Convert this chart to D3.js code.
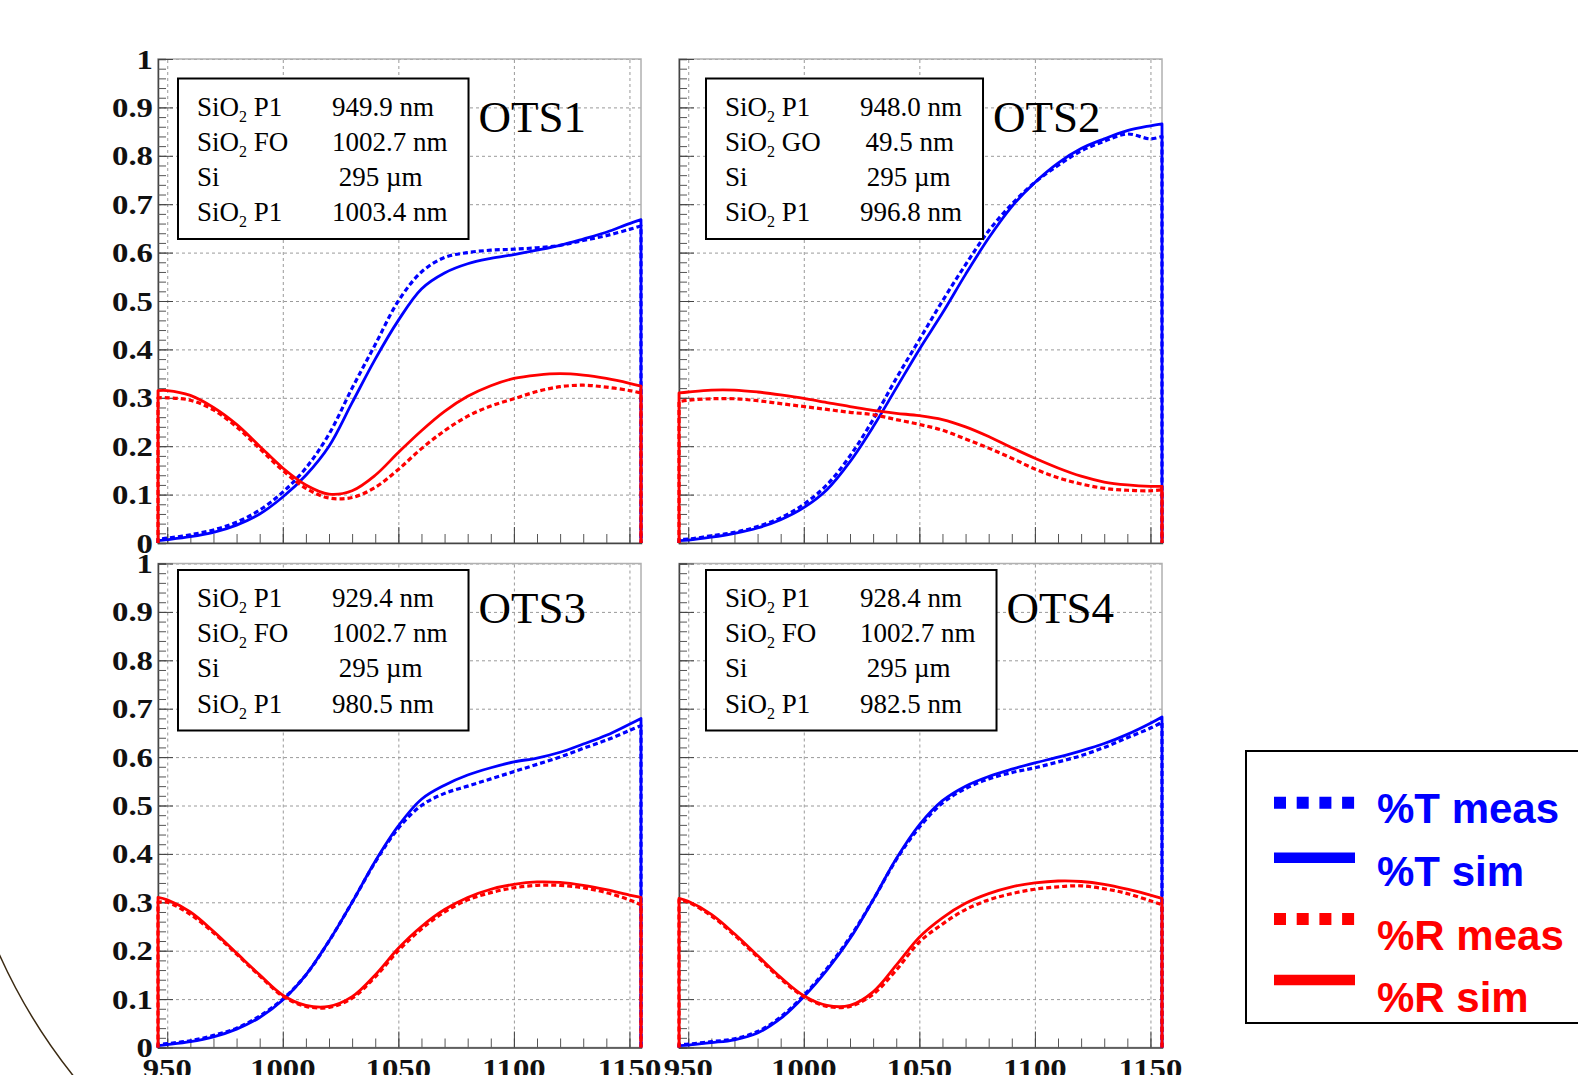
<!DOCTYPE html>
<html>
<head>
<meta charset="utf-8">
<script src="https://cdn.jsdelivr.net/npm/d3@7"></script>
<style>
  html, body { margin: 0; padding: 0; background: #fff; }
  svg { display: block; }
  .info text { font-family: "Liberation Serif", serif; font-size: 27px; white-space: pre; fill: #000; }
  .tick-label { font-family: "Liberation Serif", serif; font-weight: bold; font-size: 28px; fill: #111; }
  .ots { font-family: "Liberation Serif", serif; font-size: 45px; fill: #000; }
  .legend text { font-family: "Liberation Sans", Arial, sans-serif; font-weight: bold; font-size: 42px; }
</style>
</head>
<body>
<div id="chart"></div>
<script>
// wavelength samples (nm), shared by every curve
var wavelengths = [946, 950, 960, 970, 980, 990, 1000, 1010, 1020, 1030, 1040, 1050,
                   1060, 1070, 1080, 1090, 1100, 1110, 1120, 1130, 1140, 1150, 1155];

var ots1TMeas = [.008, .01, .017, .027, .043, .068, .105, .155, .225, .32, .41, .50, .56, .59, .60, .605, .607, .61, .615, .625, .635, .648, .655];
var ots1TSim  = [.005, .007, .013, .022, .037, .06, .095, .14, .20, .29, .38, .46, .525, .558, .577, .588, .596, .605, .615, .628, .642, .66, .668];
var ots1RMeas = [.30, .30, .295, .275, .24, .195, .15, .113, .093, .094, .115, .152, .195, .232, .262, .283, .298, .313, .323, .326, .322, .315, .31];
var ots1RSim  = [.315, .315, .305, .28, .245, .2, .155, .12, .101, .108, .14, .187, .232, .272, .303, .325, .34, .347, .35, .347, .34, .33, .324];

var ots2TMeas = [.008, .008, .015, .022, .034, .052, .08, .12, .18, .255, .34, .42, .50, .575, .645, .70, .745, .78, .81, .83, .845, .835, .84];
var ots2TSim  = [.005, .006, .012, .02, .031, .048, .073, .11, .168, .24, .32, .40, .475, .555, .63, .695, .745, .785, .815, .835, .852, .862, .866];
var ots2RMeas = [.292, .295, .298, .298, .294, .288, .282, .276, .27, .265, .255, .245, .233, .215, .196, .175, .153, .135, .122, .113, .109, .108, .11];
var ots2RSim  = [.31, .312, .316, .316, .312, .306, .299, .29, .282, .274, .268, .263, .255, .24, .22, .197, .175, .155, .138, .126, .12, .117, .117];

var ots3TMeas = [.006, .008, .014, .025, .04, .065, .1, .15, .22, .3, .383, .453, .5, .525, .54, .555, .57, .585, .6, .618, .635, .655, .665];
var ots3TSim  = [.004, .006, .012, .022, .038, .062, .098, .15, .22, .30, .385, .458, .513, .542, .563, .578, .59, .598, .61, .627, .645, .668, .68];
var ots3RMeas = [.30, .30, .275, .237, .193, .148, .106, .085, .083, .102, .146, .2, .245, .28, .305, .32, .33, .335, .335, .33, .32, .305, .295];
var ots3RSim  = [.31, .305, .28, .24, .195, .15, .108, .087, .085, .105, .15, .205, .25, .285, .31, .327, .337, .342, .341, .335, .326, .315, .31];

var ots4TMeas = [.006, .007, .012, .018, .033, .063, .108, .163, .228, .305, .388, .455, .505, .535, .555, .568, .578, .59, .603, .62, .64, .66, .672];
var ots4TSim  = [.004, .005, .01, .016, .03, .06, .105, .16, .225, .305, .39, .46, .51, .54, .56, .575, .588, .60, .613, .628, .647, .67, .683];
var ots4RMeas = [.305, .3, .272, .232, .187, .142, .105, .085, .085, .11, .16, .218, .255, .285, .305, .318, .327, .332, .334, .328, .318, .303, .295];
var ots4RSim  = [.308, .302, .275, .235, .19, .145, .107, .087, .087, .115, .17, .228, .268, .298, .318, .332, .34, .344, .343, .337, .327, .315, .308];

var panelNames = ['OTS1', 'OTS2', 'OTS3', 'OTS4'];
var layerNames = [
  ['SiO2 P1', 'SiO2 FO', 'Si', 'SiO2 P1'],
  ['SiO2 P1', 'SiO2 GO', 'Si', 'SiO2 P1'],
  ['SiO2 P1', 'SiO2 FO', 'Si', 'SiO2 P1'],
  ['SiO2 P1', 'SiO2 FO', 'Si', 'SiO2 P1']
];
var layerThickness = [
  ['949.9 nm', '1002.7 nm', ' 295 \u00b5m', '1003.4 nm'],
  ['948.0 nm', '\u200949.5 nm', ' 295 \u00b5m', '996.8 nm'],
  ['929.4 nm', '1002.7 nm', ' 295 \u00b5m', '980.5 nm'],
  ['928.4 nm', '1002.7 nm', ' 295 \u00b5m', '982.5 nm']
];

var yTicks = [0, 0.1, 0.2, 0.3, 0.4, 0.5, 0.6, 0.7, 0.8, 0.9, 1];
var yTickLabels = ['0', '0.1', '0.2', '0.3', '0.4', '0.5', '0.6', '0.7', '0.8', '0.9', '1'];
var xTicks = [950, 1000, 1050, 1100, 1150];
var xTickLabels = ['950', '1000', '1050', '1100', '1150'];
var legendLabels = ['%T meas', '%T sim', '%R meas', '%R sim'];

function spectra(){
  var W = 1578, H = 1075,
      pw = 483, ph = 484,
      blue = '#0000ff', red = '#ff0000';

  var svg = d3.select('#chart').append('svg')
      .attr('width', W)
      .attr('height', H);

  // panel layout: frame left/top, info box left/top, OTS label baseline
  var layout = [
    {left: 158, top: 59,    boxLeft: 178, boxTop: 78.5, labelY: 131.5, yLabels: true,  xLabels: false},
    {left: 679, top: 59,    boxLeft: 706, boxTop: 78.5, labelY: 131.5, yLabels: false, xLabels: false},
    {left: 158, top: 563.5, boxLeft: 178, boxTop: 570,  labelY: 623,   yLabels: true,  xLabels: true},
    {left: 679, top: 563.5, boxLeft: 706, boxTop: 570,  labelY: 623,   yLabels: false, xLabels: true}
  ];

  var series = [
    [ots1TMeas, ots1TSim, ots1RMeas, ots1RSim],
    [ots2TMeas, ots2TSim, ots2RMeas, ots2RSim],
    [ots3TMeas, ots3TSim, ots3RMeas, ots3RSim],
    [ots4TMeas, ots4TSim, ots4RMeas, ots4RSim]
  ];
  var styles = [
    {color: blue, dash: '5,3', width: 3.2},
    {color: blue, dash: null,  width: 2.8},
    {color: red,  dash: '5,3', width: 3.2},
    {color: red,  dash: null,  width: 2.8}
  ];

  var x = d3.scaleLinear()
      .domain([d3.min(wavelengths), d3.max(wavelengths)])
      .range([0, pw]);

  var y = d3.scaleLinear()
      .domain([0, 1])
      .range([ph, 0]);

  var minorY = d3.range(0, 1.0001, 0.02),
      minorX = d3.range(950, 1150.1, 10);

  var line = d3.line()
      .x(function(d) { return x(d[0]); })
      .y(function(d) { return y(d[1]); })
      .curve(d3.curveCatmullRom.alpha(0.5));

  layout.forEach(function(p, i){
    var g = svg.append('g')
        .attr('transform', 'translate(' + p.left + ',' + p.top + ')');

    // grid
    g.append('g')
        .call(d3.axisLeft(y).tickValues(yTicks.slice(1)).tickSize(-pw).tickFormat(''))
        .call(function(a){ a.select('.domain').remove(); })
        .selectAll('line')
          .attr('stroke', '#9a9a9a')
          .attr('stroke-dasharray', '3,3');
    g.append('g')
        .attr('transform', 'translate(0,' + ph + ')')
        .call(d3.axisBottom(x).tickValues(xTicks).tickSize(ph).tickFormat(''))
        .call(function(a){ a.select('.domain').remove(); })
        .selectAll('line')
          .attr('stroke', '#9a9a9a')
          .attr('stroke-dasharray', '3,3')
          .attr('y2', -ph);

    // frame
    g.append('rect')
        .attr('width', pw)
        .attr('height', ph)
        .attr('fill', 'none')
        .attr('stroke', '#b0b0b0')
        .attr('stroke-width', 1.5);

    // ticks (inside)
    g.append('g')
        .call(d3.axisLeft(y).tickValues(minorY).tickSize(-8).tickFormat(''))
        .call(function(a){ a.select('.domain').attr('stroke', '#444').attr('stroke-width', 1.5); })
        .selectAll('line').attr('stroke', '#555');
    g.append('g')
        .call(d3.axisLeft(y).tickValues(yTicks).tickSize(-15).tickFormat(''))
        .call(function(a){ a.select('.domain').remove(); })
        .selectAll('line').attr('stroke', '#444');
    g.append('g')
        .attr('transform', 'translate(0,' + ph + ')')
        .call(d3.axisBottom(x).tickValues(minorX).tickSize(-9).tickFormat(''))
        .call(function(a){ a.select('.domain').attr('stroke', '#444').attr('stroke-width', 1.5); })
        .selectAll('line').attr('stroke', '#555');
    g.append('g')
        .attr('transform', 'translate(0,' + ph + ')')
        .call(d3.axisBottom(x).tickValues(xTicks).tickSize(-16).tickFormat(''))
        .call(function(a){ a.select('.domain').remove(); })
        .selectAll('line').attr('stroke', '#444');

    // curves, drawn like histograms with edges dropping to zero
    series[i].forEach(function(vals, k){
      var pts = wavelengths.map(function(w, j){ return [w, vals[j]]; });
      var first = pts[0], last = pts[pts.length - 1];
      var d = 'M' + x(first[0]) + ',' + y(0) + 'L' + line(pts).slice(1) +
              'L' + x(last[0]) + ',' + y(0);
      g.append('path')
          .attr('d', d)
          .attr('fill', 'none')
          .attr('stroke', styles[k].color)
          .attr('stroke-width', styles[k].width)
          .attr('stroke-dasharray', styles[k].dash)
          .attr('stroke-linejoin', 'round');
    });

    // tick labels
    if(p.yLabels){
      g.selectAll('.ylab')
        .data(yTicks)
        .enter().append('text')
          .attr('class', 'tick-label')
          .attr('text-anchor', 'end')
          .attr('transform', function(d){ return 'translate(-5,' + (y(d) + 9.5) + ') scale(1.17,1)'; })
          .text(function(d, j){ return yTickLabels[j]; });
    }
    if(p.xLabels){
      g.selectAll('.xlab')
        .data(xTicks)
        .enter().append('text')
          .attr('class', 'tick-label')
          .attr('text-anchor', 'middle')
          .attr('transform', function(d){ return 'translate(' + x(d) + ',' + (ph + 30) + ') scale(1.17,1)'; })
          .text(function(d, j){ return xTickLabels[j]; });
    }

    // info box
    var info = svg.append('g').attr('class', 'info');
    var box = info.append('rect')
        .attr('fill', '#fff')
        .attr('stroke', '#000')
        .attr('stroke-width', 2);
    var rowGap = 35.2, maxRight = 0;
    layerNames[i].forEach(function(name, r){
      var by = p.boxTop + 37 + r * rowGap;
      var t = info.append('text')
          .attr('x', p.boxLeft + 19)
          .attr('y', by);
      var m = name.match(/^SiO2(.*)$/);
      if(m){
        t.append('tspan').text('SiO');
        t.append('tspan').attr('font-size', 16).attr('dy', 6).text('2');
        t.append('tspan').attr('dy', -6).text(m[1]);
      } else {
        t.text(name);
      }
      var v = info.append('text')
          .attr('x', p.boxLeft + 154)
          .attr('y', by)
          .text(layerThickness[i][r]);
      var bb = v.node().getBBox();
      maxRight = Math.max(maxRight, bb.x + bb.width);
    });
    var boxRight = maxRight + 21;
    box.attr('x', p.boxLeft)
        .attr('y', p.boxTop)
        .attr('width', boxRight - p.boxLeft)
        .attr('height', 160.5);

    svg.append('text')
        .attr('class', 'ots')
        .attr('x', boxRight + 10)
        .attr('y', p.labelY)
        .text(panelNames[i]);
  });

  // legend
  var lg = svg.append('g').attr('class', 'legend');
  lg.append('rect')
      .attr('x', 1246)
      .attr('y', 751)
      .attr('width', 400)
      .attr('height', 272)
      .attr('fill', '#fff')
      .attr('stroke', '#000')
      .attr('stroke-width', 2);
  var rowY = [802.7, 857.7, 919, 980],
      textY = [823, 886, 950, 1011.7];
  legendLabels.forEach(function(lab, k){
    var dotted = styles[k].dash !== null;
    lg.append('line')
        .attr('x1', 1274)
        .attr('x2', 1355)
        .attr('y1', rowY[k])
        .attr('y2', rowY[k])
        .attr('stroke', styles[k].color)
        .attr('stroke-width', dotted ? 12 : 10.5)
        .attr('stroke-dasharray', dotted ? '12,10.7' : null);
    lg.append('text')
        .attr('x', 1377)
        .attr('y', textY[k])
        .attr('fill', styles[k].color)
        .text(lab);
  });

  // decorative arc in the lower-left corner
  var arc = d3.path();
  arc.arc(520, 720, 571, Math.PI * 160 / 180, Math.PI * 136 / 180, true);
  svg.append('path')
      .attr('d', arc.toString())
      .attr('fill', 'none')
      .attr('stroke', '#3b2a12')
      .attr('stroke-width', 1.5);
}

spectra();
</script>
</body>
</html>
